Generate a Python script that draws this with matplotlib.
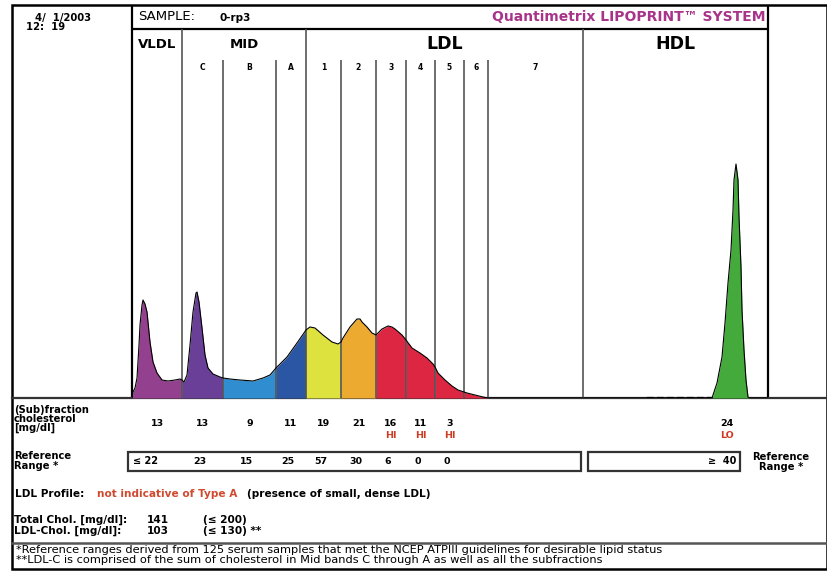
import numpy as np
import matplotlib
matplotlib.use("Agg")
import matplotlib.pyplot as plt
from matplotlib import transforms

plt.rcParams['font.family'] = ['DejaVu Sans']

# ---------------- data ----------------
# densitometric trace: mobility (arbitrary units) vs. intensity
trace_x = [0, 1, 3, 5, 7, 8, 10, 11, 13, 15, 18, 21, 25, 30, 36, 43, 48, 50,
           52, 55, 58, 61, 64, 65, 67, 70, 73, 76, 81, 88, 91,
           98, 108, 121, 131, 138, 144,
           155, 165, 174,
           178, 183, 191, 200, 206, 209,
           211, 218, 225, 228, 230, 235, 240, 244,
           250, 256, 260, 263, 270, 274,
           280, 288, 295, 301, 303,
           306, 313, 320, 326, 332,
           335, 343, 351, 356,
           580, 585, 590, 593, 596, 599, 601, 602, 604, 606, 607, 609, 610,
           612, 614, 616, 617, 636]
trace_y = [0, 6, 10, 20, 53, 73, 93, 98, 94, 86, 56, 36, 25, 18, 17, 18, 19, 18,
           16, 23, 53, 86, 105, 106, 96, 70, 43, 30, 24, 21, 20,
           19, 18, 17, 20, 23, 30,
           41, 55, 68,
           71, 70, 63, 56, 54, 56,
           60, 71, 79, 79, 76, 71, 65, 63,
           69, 72, 71, 69, 63, 58,
           50, 45, 40, 34, 31,
           25, 18, 12, 8, 6,
           5, 3, 1, 0,
           0, 15, 41, 75, 115, 148, 188, 218, 234, 218, 181, 131, 88,
           48, 18, 1, 0, 0]

band_names = ["VLDL", "C", "B", "A", "1", "2", "3", "4", "5", "6", "7", "HDL"]
band_edges = [0, 50, 91, 144, 174, 209, 244, 274, 303, 332, 356, 451, 636]
band_colors = ["#93408F", "#6A3F98", "#2F8DD0", "#2B56A3", "#DDE23E", "#ECAA30",
               "#DD2742", "#DD2742", "#DD2742", "#DD2742", "#DD2742", "#44AA3C"]
group_names = ["VLDL", "MID", "LDL", "HDL"]
group_edges = [0, 50, 174, 451, 636]

value_bands = ["VLDL", "C", "B", "A", "1", "2", "3", "4", "5", "HDL"]
chol_values = [13, 13, 9, 11, 19, 21, 16, 11, 3, 24]
chol_flags = ["", "", "", "", "", "", "HI", "HI", "HI", "LO"]
ref_bands = ["VLDL", "C", "B", "A", "1", "2", "3", "4", "5"]
ref_values = ["≤ 22", "23", "15", "25", "57", "30", "6", "0", "0"]
hdl_ref = "≥  40"
hdl_value_pos = 595          # mobility where the HDL value is printed
hdl_noise = [515, 580]       # short dashed baseline segment in HDL zone

total_chol, total_ref = 141, "(≤ 200)"
ldl_chol, ldl_ref = 103, "(≤ 130) **"

# ---------------- figure ----------------
W, H = 828, 572
fig = plt.figure(figsize=(W / 100, H / 100), dpi=100)
frame = fig.add_axes([0, 0, 1, 1])
frame.set_xlim(0, W)
frame.set_ylim(H, 0)
frame.axis("off")

X0, X1, YB, YT = 132, 768, 398, 29
ax = fig.add_axes([X0 / W, (H - YB) / H, (X1 - X0) / W, (YB - YT) / H])
ax.set_xlim(band_edges[0], band_edges[-1])
ax.set_ylim(0, YB - YT)
ax.axis("off")

tx = np.array(trace_x, float)
ty = np.array(trace_y, float)
for lo, hi, c in zip(band_edges[:-1], band_edges[1:], band_colors):
    m = (tx >= lo) & (tx <= hi)
    if m.sum() > 1:
        ax.fill_between(tx[m], 0, ty[m], color=c, lw=0, zorder=1)

# band separators
sub_top = YB - 60
for e in band_edges[1:-1]:
    top = (YB - YT) if e in group_edges else sub_top
    ax.vlines(e, 0, top, color="#555555", lw=1.2, zorder=2)

ax.plot(tx, ty, color="black", lw=0.8, zorder=3)
ax.plot(hdl_noise, [0.5, 0.5], color="black", lw=1.6, dashes=(3, 1.5), zorder=3)

# group labels
for name, lo, hi in zip(group_names, group_edges[:-1], group_edges[1:]):
    fs = 9.5 if name in ("VLDL", "MID") else 12.5
    ax.text((lo + hi) / 2, YB - 44, name, ha="center", va="center",
            fontsize=fs, fontweight="bold")
centers = {n: (lo + hi) / 2 for n, lo, hi in zip(band_names, band_edges[:-1], band_edges[1:])}
for n in band_names[1:11]:
    ax.text(centers[n], YB - 68, n, ha="center", va="center", fontsize=5.5,
            fontweight="bold")

# ---------------- frame lines ----------------
lk = dict(color="black", lw=1.6, solid_capstyle="butt")
frame.add_patch(plt.Rectangle((12, 5), 815, 564, fill=False, ec="black", lw=1.8))
frame.plot([X0, X0], [5, YB], **lk)
frame.plot([X1, X1], [5, YB], **lk)
frame.plot([X0, X1], [YT, YT], **lk)
frame.plot([12, 827], [YB, YB], color="#333333", lw=1.6)
frame.plot([12, 827], [543, 543], color="#555555", lw=1.8)

# header texts
frame.text(35, 17.5, "4/  1/2003", fontsize=7.2, fontweight="bold", va="center")
frame.text(26, 27.5, "12:  19", fontsize=7.2, fontweight="bold", va="center")
frame.text(138, 17, "SAMPLE:", fontsize=9.5, va="center")
frame.text(220, 18, "0-rp3", fontsize=7.5, fontweight="bold", va="center")
frame.text(766, 17, "Quantimetrix LIPOPRINT™ SYSTEM", fontsize=10, fontweight="bold",
           color="#A8348A", ha="right", va="center")

# ---------------- table ----------------
bt = transforms.blended_transform_factory(ax.transData, frame.transData)
tk = dict(fontsize=7.2, fontweight="bold", va="center", linespacing=0.88)
frame.text(14, 419, "(Sub)fraction\ncholesterol\n[mg/dl]", **tk)
for n, v, f in zip(value_bands, chol_values, chol_flags):
    xc = hdl_value_pos if n == "HDL" else centers[n]
    frame.text(xc, 424, str(v), transform=bt, ha="center", fontsize=6.8,
               fontweight="bold", va="center")
    if f:
        frame.text(xc, 436, f, transform=bt, ha="center", fontsize=6.8,
                   fontweight="bold", va="center", color="#D03A22")

frame.text(14, 461, "Reference\nRange *", **tk)
frame.text(781, 462, "Reference\nRange *", ha="center", **tk)
frame.add_patch(plt.Rectangle((128, 452), 453, 19, fill=False, ec="#333333", lw=1.6))
frame.add_patch(plt.Rectangle((588, 452), 152, 19, fill=False, ec="#333333", lw=1.6))
for n, v in zip(ref_bands, ref_values):
    xc = centers[n] - 3
    if v.startswith("≤"):
        frame.text(X0 + 1, 461, v, fontsize=7, fontweight="bold", va="center")
    else:
        frame.text(xc, 461, v, transform=bt, ha="center", fontsize=6.8,
                   fontweight="bold", va="center")
frame.text(736, 461, hdl_ref, ha="right", fontsize=7, fontweight="bold", va="center")

# LDL profile
frame.text(15, 494, "LDL Profile:", fontsize=7.6, fontweight="bold", va="center")
frame.text(97, 494, "not indicative of Type A", fontsize=7.6, fontweight="bold",
           va="center", color="#D04A30")
frame.text(247, 494, "(presence of small, dense LDL)", fontsize=7.6, fontweight="bold",
           va="center")

frame.text(14, 520, "Total Chol. [mg/dl]:", fontsize=7.6, fontweight="bold", va="center")
frame.text(147, 520, str(total_chol), fontsize=7.6, fontweight="bold", va="center")
frame.text(203, 520, total_ref, fontsize=7.6, fontweight="bold", va="center")
frame.text(14, 531, "LDL-Chol. [mg/dl]:", fontsize=7.6, fontweight="bold", va="center")
frame.text(147, 531, str(ldl_chol), fontsize=7.6, fontweight="bold", va="center")
frame.text(203, 531, ldl_ref, fontsize=7.6, fontweight="bold", va="center")

frame.text(16, 550, "*Reference ranges derived from 125 serum samples that met the NCEP ATPIII "
           "guidelines for desirable lipid status", fontsize=8.2, va="center")
frame.text(16, 560, "**LDL-C is comprised of the sum of cholesterol in Mid bands C through A "
           "as well as all the subfractions", fontsize=8.2, va="center")

fig.savefig("out.png", dpi=100)
